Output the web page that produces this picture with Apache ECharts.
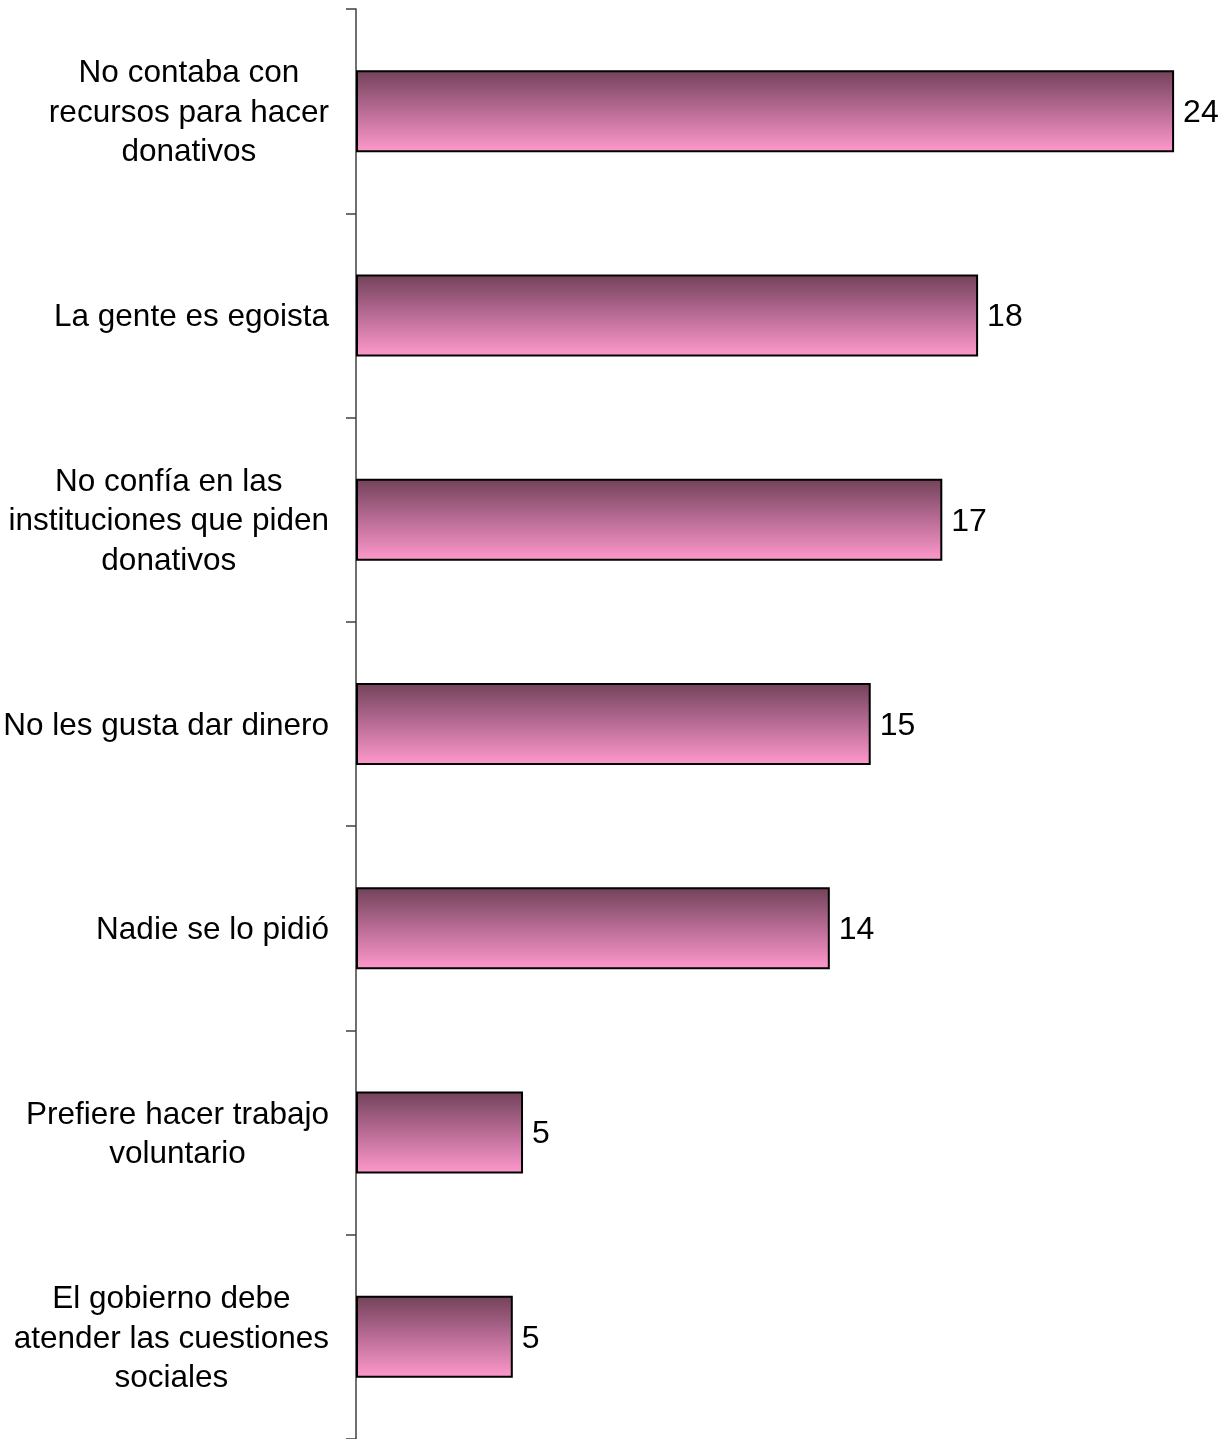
<!DOCTYPE html>
<html>
<head>
<meta charset="utf-8">
<script src="https://cdn.jsdelivr.net/npm/echarts@6/dist/echarts.min.js"></script>
<style>html,body{margin:0;padding:0;background:#fff}#c{width:1230px;height:1439px}</style>
</head>
<body>
<div id="c"></div>
<script>
const categories = [
  "No contaba con\nrecursos para hacer\ndonativos",
  "La gente es egoista",
  "No confía en las\ninstituciones que piden\ndonativos",
  "No les gusta dar dinero",
  "Nadie se lo pidió",
  "Prefiere hacer trabajo\nvoluntario",
  "El gobierno debe\natender las cuestiones\nsociales"
];
const values = [24.0, 18.25, 17.2, 15.1, 13.9, 4.9, 4.6];
const valueLabels = ["24", "18", "17", "15", "14", "5", "5"];

const chart = echarts.init(document.getElementById('c'));
chart.setOption({
  animation: false,
  backgroundColor: '#ffffff',
  grid: { left: 356, top: 9, right: 0, bottom: 0, containLabel: false },
  xAxis: { type: 'value', min: 0, max: 25.64, show: false },
  yAxis: {
    type: 'category',
    data: categories,
    inverse: true,
    axisLine: { show: true, lineStyle: { color: '#404040', width: 1.5 } },
    axisTick: { show: true, length: 10, lineStyle: { color: '#404040', width: 1.5 } },
    splitLine: { show: false },
    axisLabel: {
      margin: 27,
      formatter: function (v) {
        return v.split('\n').map(function (s) { return '{c|' + s + '}'; }).join('\n');
      },
      rich: {
        c: { align: 'center', fontFamily: 'Liberation Sans, Arial, sans-serif', fontSize: 31.5, lineHeight: 39.5, color: '#000', padding: [4, 0, 0, 0] }
      }
    }
  },
  series: [{
    type: 'bar',
    data: values,
    barWidth: 82,
    itemStyle: {
      borderColor: '#000',
      borderWidth: 2,
      color: {
        type: 'linear', x: 0, y: 0, x2: 0, y2: 1,
        colorStops: [
          { offset: 0, color: '#724259' },
          { offset: 0.45, color: '#b26890' },
          { offset: 1, color: '#ff99cc' }
        ]
      }
    },
    label: {
      show: true,
      position: 'right',
      distance: 9,
      offset: [0, 2],
      formatter: function (p) { return valueLabels[p.dataIndex]; },
      fontFamily: 'Liberation Sans, Arial, sans-serif',
      fontSize: 32,
      color: '#000'
    }
  }]
});
</script>
</body>
</html>
